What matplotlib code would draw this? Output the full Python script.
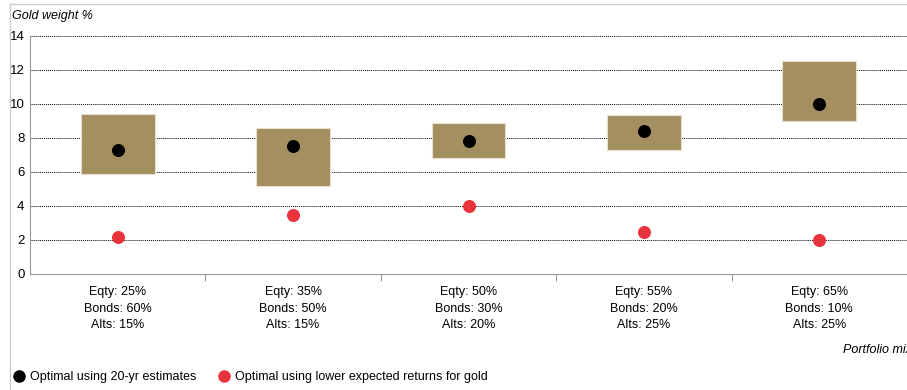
import matplotlib.pyplot as plt
from matplotlib.lines import Line2D
from matplotlib.patches import Rectangle
import numpy as np

plt.rcParams['font.family'] = ['Liberation Sans', 'DejaVu Sans']

mixes = ['Eqty: 25%\nBonds: 60%\nAlts: 15%',
         'Eqty: 35%\nBonds: 50%\nAlts: 15%',
         'Eqty: 50%\nBonds: 30%\nAlts: 20%',
         'Eqty: 55%\nBonds: 20%\nAlts: 25%',
         'Eqty: 65%\nBonds: 10%\nAlts: 25%']
range_low = [5.9, 5.2, 6.8, 7.3, 9.0]
range_high = [9.4, 8.6, 8.9, 9.35, 12.5]
optimal_20yr = [7.3, 7.5, 7.8, 8.4, 10.0]
optimal_low_gold = [2.15, 3.5, 4.0, 2.5, 2.0]

box_color = '#a48f60'
red = '#e8323c'

fig = plt.figure(figsize=(9.07, 3.9), dpi=100)
ax = fig.add_axes([30 / 907, 1 - 274 / 390, 877 / 907, 238 / 390])

x = np.arange(len(mixes))
w = 0.42
for i in x:
    ax.add_patch(Rectangle((i - w / 2, range_low[i]), w, range_high[i] - range_low[i],
                           facecolor=box_color, edgecolor='#e6dfcc', linewidth=0.8, zorder=2))
ax.scatter(x, optimal_20yr, s=70, color='black', zorder=3)
ax.scatter(x, optimal_low_gold, s=70, color=red, zorder=3)

ax.set_xlim(-0.5, len(mixes) - 0.5 - 0.02)
ax.set_ylim(0, 14)
ax.set_yticks(range(0, 15, 2))
ax.yaxis.grid(True, linestyle=(0, (1, 1)), color='black', linewidth=0.7)
ax.set_axisbelow(True)
ax.tick_params(axis='y', length=0, labelsize=9.5, pad=4)

ax.set_xticks(x)
ax.set_xticklabels(mixes, fontsize=9, linespacing=1.45)
ax.tick_params(axis='x', length=0, pad=9)
ax.set_xticks(np.arange(len(mixes)) + 0.5, minor=True)
ax.tick_params(axis='x', which='minor', length=5, color='#808080', direction='out')

for s in ['top', 'right']:
    ax.spines[s].set_visible(False)
for s in ['left', 'bottom']:
    ax.spines[s].set_color('#999999')

fig.text(12 / 907, 1 - 16 / 390, 'Gold weight %', fontsize=9, style='italic', va='center')
fig.text(843 / 907, 1 - 350 / 390, 'Portfolio mix', fontsize=9, style='italic', va='center')

# light frame around the chart
fig.add_artist(Line2D([10 / 907, 10 / 907], [0, 1 - 4 / 390], color='#cccccc', linewidth=1))
fig.add_artist(Line2D([10 / 907, 1], [1 - 4 / 390, 1 - 4 / 390], color='#cccccc', linewidth=1))

handles = [Line2D([], [], marker='o', linestyle='', color='black', markersize=8),
           Line2D([], [], marker='o', linestyle='', color=red, markersize=8)]
fig.legend(handles, ['Optimal using 20-yr estimates', 'Optimal using lower expected returns for gold'],
           loc='center left', bbox_to_anchor=(0, 1 - 377 / 390), ncol=2, frameon=False,
           fontsize=9, handletextpad=0.3, columnspacing=1.6, handlelength=1.2)

fig.savefig('out.png', dpi=100)
